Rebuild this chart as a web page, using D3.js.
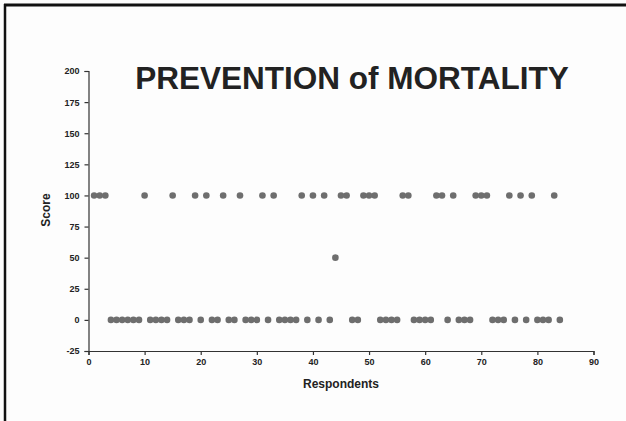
<!DOCTYPE html>
<html><head><meta charset="utf-8">
<script src="https://cdn.jsdelivr.net/npm/d3@7"></script>
<style>
html,body{margin:0;padding:0;background:#fff;}
svg{display:block;}
text{font-family:"Liberation Sans",Arial,sans-serif;font-weight:bold;fill:#222;}
</style></head>
<body>
<svg id="c" width="626" height="421"></svg>
<script>
const title = "PREVENTION of MORTALITY";
const xLabel = "Respondents";
const yLabel = "Score";
const respondents = d3.range(1, 85);
// scores per respondent (1..84)
const score100 = [1,2,3,10,15,19,21,24,27,31,33,38,40,42,45,46,49,50,51,56,57,62,63,65,69,70,71,75,77,79,83];
const score50 = [44];
const xTicks = [0,10,20,30,40,50,60,70,80,90];
const yTicks = [-25,0,25,50,75,100,125,150,175,200];

const scores = respondents.map(r => score100.includes(r) ? 100 : (score50.includes(r) ? 50 : 0));

const svg = d3.select("#c");
svg.append("rect").attr("width",626).attr("height",421).attr("fill","#fdfdfd");
// frame lines
svg.append("line").attr("x1",4).attr("x2",626).attr("y1",5).attr("y2",5).attr("stroke","#111").attr("stroke-width",3);
svg.append("line").attr("x1",5).attr("x2",5).attr("y1",4).attr("y2",421).attr("stroke","#111").attr("stroke-width",2.5);

const x = d3.scaleLinear().domain([0,90]).range([88.5,593.5]);
const y = d3.scaleLinear().domain([-25,200]).range([351,71]);

const fmt = d => String(d);
const xa = svg.append("g").attr("transform","translate(0,351)")
  .call(d3.axisBottom(x).tickValues(xTicks).tickFormat(fmt).tickSize(4).tickPadding(4));
const ya = svg.append("g").attr("transform","translate(88.5,0)")
  .call(d3.axisLeft(y).tickValues(yTicks).tickFormat(fmt).tickSize(4).tickPadding(5));
[xa,ya].forEach(a=>{
  a.selectAll("path,line").attr("stroke","#333").attr("stroke-width",1.2);
  a.selectAll("text").style("font-size","9px").style("font-weight","bold").attr("fill","#222");
});

svg.append("text").attr("x",352).attr("y",89).attr("text-anchor","middle")
  .style("font-size","31.5px").attr("fill","#262626").text(title);
svg.append("text").attr("x",341).attr("y",388).attr("text-anchor","middle")
  .style("font-size","12px").text(xLabel);
svg.append("text").attr("transform","translate(50,210) rotate(-90)").attr("text-anchor","middle")
  .style("font-size","12px").text(yLabel);

svg.append("g").selectAll("circle").data(respondents).join("circle")
  .attr("cx",(d)=>x(d)).attr("cy",(d,i)=>y(scores[i])).attr("r",3.3)
  .attr("fill","#6e6e6e");
</script>
</body></html>
